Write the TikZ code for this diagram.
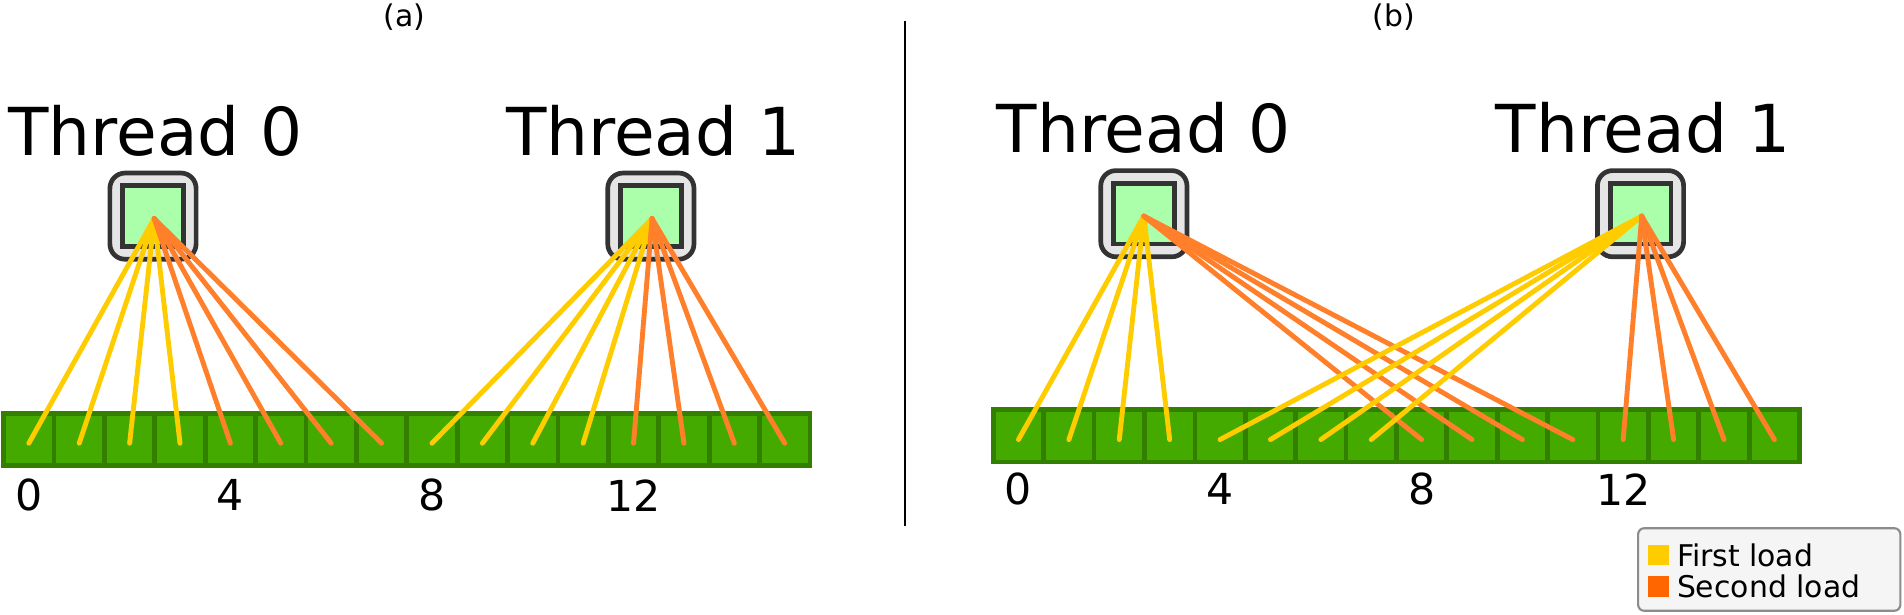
\documentclass[tikz,border=0pt]{standalone}
\usepackage{fontspec}
\setmainfont{DejaVu Sans}
\usetikzlibrary{calc}

\definecolor{cellfill}{HTML}{44AA00}
\definecolor{celldraw}{HTML}{338000}
\definecolor{firstload}{HTML}{FFCC00}
\definecolor{secondload}{HTML}{FF7F2A}
\definecolor{legendsq}{HTML}{FF6600}

\tikzset{
  cell/.style={draw=celldraw, fill=cellfill, line width=2.2pt, minimum width=0.83cm, minimum height=0.86cm, inner sep=0pt},
  outerbox/.style={draw=black!80, fill=black!10, line width=2.2pt, rounded corners=0.25cm, minimum size=1.42cm, inner sep=0pt},
  innerbox/.style={draw=black!80, fill=green!33!white, line width=2.2pt, minimum size=1cm, inner sep=0pt},
  first/.style={firstload, line width=2.3pt, line cap=round},
  second/.style={secondload, line width=2.3pt, line cap=round},
  thrlabel/.style={font=\fontsize{31}{31}\selectfont},
  idx/.style={font=\fontsize{20}{20}\selectfont},
}

\begin{document}
\begin{tikzpicture}[x={(0.02cm,0)}, y={(0,-0.02cm)}]
  \useasboundingbox (0,0) rectangle (1568,506);

  % panel (a)
  \node[font=\fontsize{14}{14}\selectfont] at (333,14) {(a)};
  \foreach \i in {0,...,15}
    \node[cell] (ca\i) at ({3+41.5*\i+20.75},362) {};
  \foreach \i in {0,4,8,12}
    \node[idx] at ($(ca\i)+(0,46)$) {\i};
  \node[outerbox] (ba0) at (126,178) {};
  \node[innerbox] at (ba0) {};
  \node[outerbox] (ba1) at (536,178) {};
  \node[innerbox] at (ba1) {};
  \coordinate (ta0) at (127,180);
  \coordinate (ta1) at (537,180);
  \node[thrlabel] at (128,108) {Thread 0};
  \node[thrlabel] at (538,108) {Thread 1};
  \foreach \i in {0,...,3}
    \draw[first] (ta0) -- ($(ca\i.center)+(0,3)$);
  \foreach \i in {4,...,7}
    \draw[second] (ta0) -- ($(ca\i.center)+(0,3)$);
  \foreach \i in {8,...,11}
    \draw[first] (ta1) -- ($(ca\i.center)+(0,3)$);
  \foreach \i in {12,...,15}
    \draw[second] (ta1) -- ($(ca\i.center)+(0,3)$);

  % divider
  \coordinate (d1) at (745,17);
  \coordinate (d2) at (745,433);
  \draw[line width=1pt] (d1) -- (d2);

  % panel (b)
  \node[font=\fontsize{14}{14}\selectfont] at (1148,14) {(b)};
  \foreach \i in {0,...,15}
    \node[cell] (cb\i) at ({818+41.5*\i+20.75},359) {};
  \foreach \i in {0,4,8,12}
    \node[idx] at ($(cb\i)+(0,44)$) {\i};
  \node[outerbox] (bb0) at (942,176) {};
  \node[innerbox] at (bb0) {};
  \node[outerbox] (bb1) at (1351,176) {};
  \node[innerbox] at (bb1) {};
  \coordinate (tb0) at (942,178);
  \coordinate (tb1) at (1352,178);
  \node[thrlabel] at (942,105) {Thread 0};
  \node[thrlabel] at (1353,105) {Thread 1};
  \foreach \i in {0,...,3}
    \draw[first] (tb0) -- ($(cb\i.center)+(0,3)$);
  \foreach \i in {8,...,11}
    \draw[second] (tb0) -- ($(cb\i.center)+(0,3)$);
  \foreach \i in {4,...,7}
    \draw[first] (tb1) -- ($(cb\i.center)+(0,3)$);
  \foreach \i in {12,...,15}
    \draw[second] (tb1) -- ($(cb\i.center)+(0,3)$);

  % legend
  \node[draw=black!45, fill=black!4, line width=1pt, rounded corners=0.1cm, minimum width=4.32cm, minimum height=1.36cm] (leg) at (1457,469) {};
  \node[fill=firstload, minimum size=0.34cm, inner sep=0pt] (sq1) at (1366,457) {};
  \node[fill=legendsq, minimum size=0.34cm, inner sep=0pt] (sq2) at (1366,483) {};
  \node[right=0pt, font=\fontsize{14}{14}\selectfont] at (sq1.east) {First load};
  \node[right=0pt, font=\fontsize{14}{14}\selectfont] at (sq2.east) {Second load};
\end{tikzpicture}
\end{document}
